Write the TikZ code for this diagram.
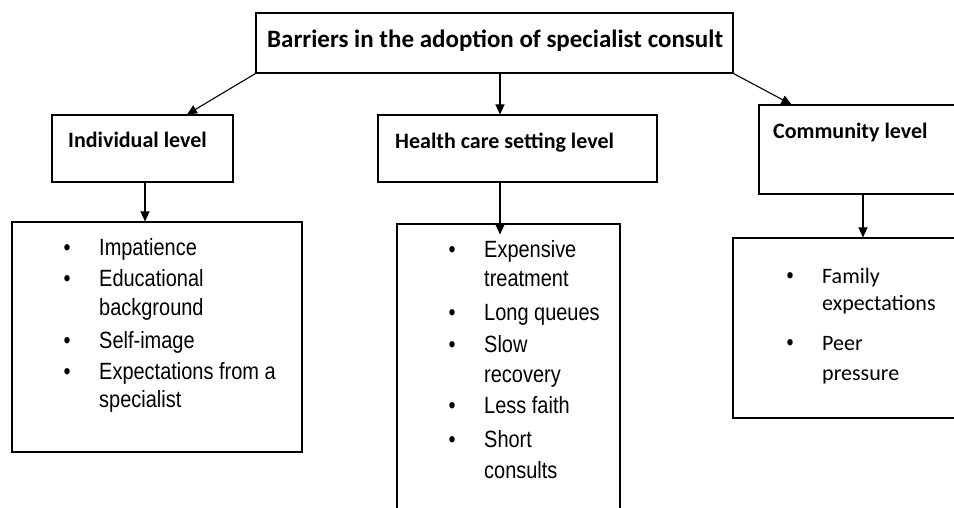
\documentclass[tikz,border=0pt]{standalone}
\usepackage{fontspec}
\setmainfont{Carlito}
\newfontfamily\listfont[FakeStretch=0.85]{Liberation Sans}
\usetikzlibrary{arrows.meta}

\begin{document}
\begin{tikzpicture}[x=1pt, y=-1pt,
    box/.style={draw, line width=1.1pt, inner sep=0pt},
    head/.style={anchor=base west, inner sep=0pt, font=\bfseries\fontsize{22}{22}\selectfont},
    item/.style={anchor=base west, inner sep=0pt, font=\listfont\fontsize{23.5}{23.5}\selectfont},
    citem/.style={anchor=base west, inner sep=0pt, font=\fontsize{22}{22}\selectfont},
    link/.style={-{Triangle[length=10pt,width=9pt]}, line width=1.1pt}]
        \clip (0, 0) rectangle (954, 508);

        % Title box on top
        \node[box, minimum width=477pt, minimum height=60pt] (top) at (494.5, 43) {};
        \node[head, font=\bfseries\fontsize{25}{25}\selectfont] (toptext) at (267, 48) {Barriers in the adoption of specialist consult};

        % The three levels
        \node[box, minimum width=181pt, minimum height=67pt] (ind) at (142.5, 148.5) {};
        \node[head] (indtext) at (68, 148) {Individual level};
        \node[box, minimum width=279pt, minimum height=67pt] (hea) at (517.5, 148.5) {};
        \node[head] (heatext) at (395, 149) {Health care setting level};
        \node[box, minimum width=242pt, minimum height=89pt] (com) at (880, 149.5) {};
        \node[head] (comtext) at (773, 139) {Community level};

        % Arrows from the title to the levels
        \draw[link] (top.south west) -- ([xshift=44.5pt]ind.north);
        \draw[link] ([xshift=5.5pt]top.south) -- ([xshift=5.5pt]top.south |- hea.north);
        \draw[link] (top.south east) -- ([xshift=33pt]com.north west);

        % Barriers at the individual level
        \node[box, minimum width=290pt, minimum height=230pt] (indlist) at (157, 337) {};
        \foreach \y/\t in {
            255/Impatience, 287/Educational, 315/background, 348/Self-image,
            379/Expectations from a, 407/specialist
        }
        \node[item] (ind\y) at (99, \y) {\t};
        \foreach \y in {255, 287, 348, 379}
        \node[item, anchor=base] (indb\y) at (67, \y) {•};
        \draw[link] ([xshift=2.5pt]ind.south) -- ([xshift=2.5pt]ind.south |- indlist.north);

        % Barriers in the health care setting
        \node[box, minimum width=223pt, minimum height=336pt] (healist) at (508.5, 392) {};
        \foreach \y/\t in {
            257/Expensive, 287/treatment, 320/Long queues, 352/Slow,
            382/recovery, 413/Less faith, 447/Short, 478/consults
        }
        \node[item] (hea\y) at (484, \y) {\t};
        \foreach \y in {257, 320, 352, 413, 447}
        \node[item, anchor=base] (heab\y) at (452, \y) {•};
        \draw[link] ([xshift=-17.5pt]hea.south) -- ([xshift=-17.5pt, yshift=-11pt]hea.south |- healist.north);

        % Barriers in the community
        \node[box, minimum width=267pt, minimum height=180pt] (comlist) at (866.5, 328) {};
        \foreach \y/\t in {
            283/Family, 310/expectations, 350/Peer, 380/pressure
        }
        \node[citem] (com\y) at (822, \y) {\t};
        \foreach \y in {283, 350}
        \node[item, anchor=base] (comb\y) at (790, \y) {•};
        \draw[link] ([xshift=-17pt]com.south) -- ([xshift=-17pt]com.south |- comlist.north);
    \end{tikzpicture}
\end{document}
